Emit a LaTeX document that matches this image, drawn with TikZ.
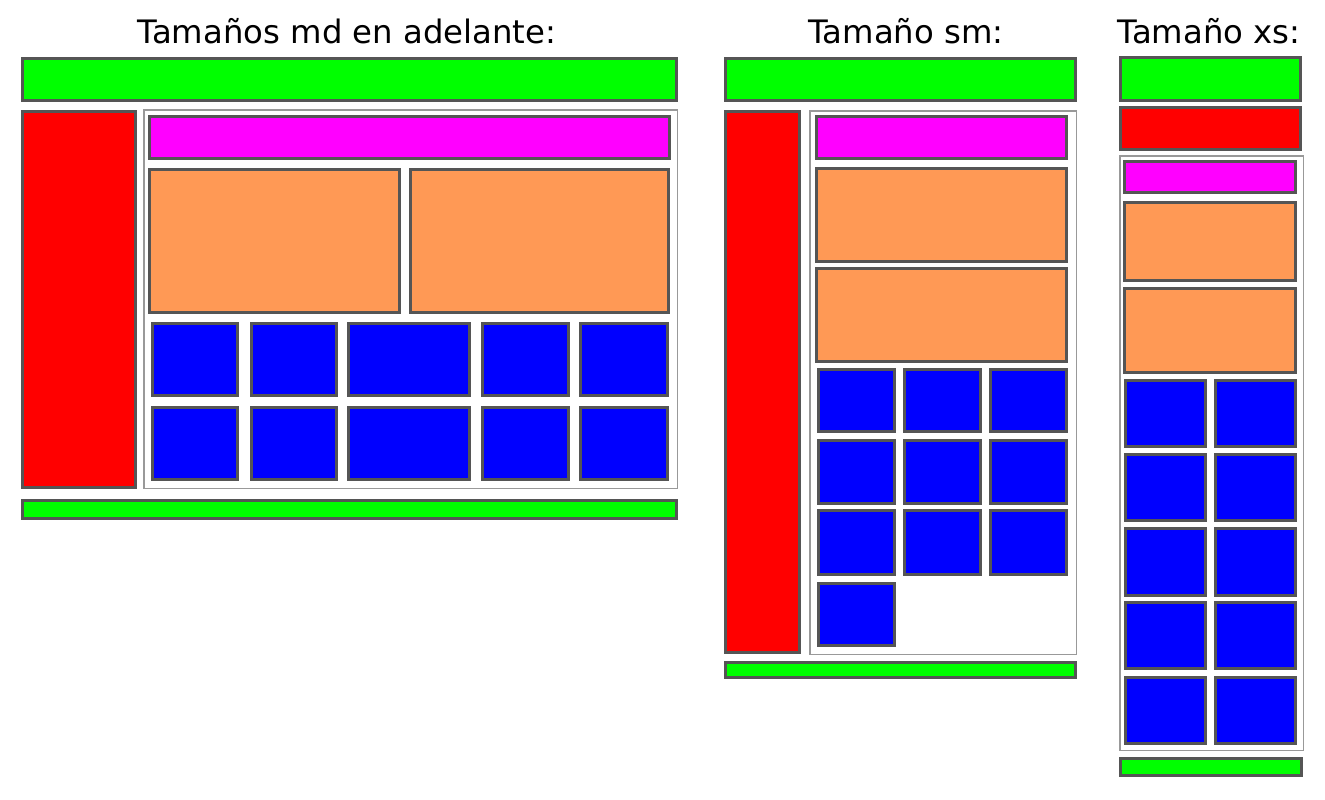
\documentclass[tikz,border=0pt]{standalone}
\usepackage{fontspec}
\setmainfont{DejaVu Sans}
\definecolor{edgegray}{HTML}{555555}
\definecolor{framegray}{HTML}{999999}
\definecolor{cgreen}{HTML}{00FF00}
\definecolor{cred}{HTML}{FF0000}
\definecolor{cmag}{HTML}{FF00FF}
\definecolor{corange}{HTML}{FF9955}
\definecolor{cblue}{HTML}{0000FF}
\tikzset{
  blk/.style={draw=edgegray, line width=2.8pt, inner sep=0pt, outer sep=0pt, anchor=north west},
  frame/.style={draw=framegray, line width=1.5pt, fill=white, inner sep=0pt, outer sep=0pt, anchor=north west},
  gbox/.style={blk, fill=cgreen},
  rbox/.style={blk, fill=cred},
  mbox/.style={blk, fill=cmag},
  obox/.style={blk, fill=corange},
  bbox/.style={blk, fill=cblue},
  title/.style={font=\fontsize{32.3}{37}\selectfont, anchor=base, inner sep=0pt}
}
% \bx{style}{name}{x1}{y1}{x2}{y2}  (outer edges in px, y downward)
\newcommand\bx[6]{\node[#1, minimum width={(#5-#3-2.8)*1pt}, minimum height={(#6-#4-2.8)*1pt}] (#2) at (#3+1.4,#4+1.4) {};}
\newcommand\fr[6]{\node[#1, minimum width={(#5-#3-1.5)*1pt}, minimum height={(#6-#4-1.5)*1pt}] (#2) at (#3+0.75,#4+0.75) {};}
\begin{document}
\begin{tikzpicture}[x=1pt,y=-1pt]
\useasboundingbox (0,0) rectangle (1325,800);
% ---------- md ----------
\node[title] (t1) at (347,44) {Tamaños md en adelante:};
\bx{gbox}{mdtop}{21}{57}{678}{102}
\bx{rbox}{mdside}{21}{110}{137}{489}
\fr{frame}{mdcont}{143}{109}{678}{489}
\bx{mbox}{mdhead}{148}{115}{671}{160}
\bx{obox}{mdo1}{148}{168}{401}{314}
\bx{obox}{mdo2}{409}{168}{670}{314}
\foreach \r/\ya/\yb in {1/322/397, 2/406/481}{
  \foreach \c/\xa/\xb in {1/151/239, 2/250/338, 3/347/471, 4/481/570, 5/579/669}{
    \bx{bbox}{mdb\r\c}{\xa}{\ya}{\xb}{\yb}
  }
}
\bx{gbox}{mdfoot}{21}{499}{678}{520}
% ---------- sm ----------
\node[title] (t2) at (906,44) {Tamaño sm:};
\bx{gbox}{smtop}{724}{57}{1077}{102}
\bx{rbox}{smside}{724}{110}{801}{654}
\fr{frame}{smcont}{809}{110}{1077}{655}
\bx{mbox}{smhead}{815}{115}{1068}{160}
\bx{obox}{smo1}{815}{167}{1068}{263}
\bx{obox}{smo2}{815}{267}{1068}{363}
\foreach \r/\ya/\yb in {1/368/433, 2/439/505, 3/509/576}{
  \foreach \c/\xa/\xb in {1/817/896, 2/903/982, 3/989/1068}{
    \bx{bbox}{smb\r\c}{\xa}{\ya}{\xb}{\yb}
  }
}
\bx{bbox}{smb41}{817}{582}{896}{647}
\bx{gbox}{smfoot}{724}{661}{1077}{679}
% ---------- xs ----------
\node[title] (t3) at (1209,44) {Tamaño xs:};
\bx{gbox}{xstop}{1119}{56}{1302}{102}
\bx{rbox}{xsside}{1119}{106}{1302}{151}
\fr{frame}{xscont}{1119}{155}{1304}{751}
\bx{mbox}{xshead}{1123}{160}{1297}{194}
\bx{obox}{xso1}{1123}{201}{1297}{282}
\bx{obox}{xso2}{1123}{287}{1297}{374}
\foreach \r/\ya/\yb in {1/379/448, 2/453/522, 3/527/597, 4/601/670, 5/676/745}{
  \foreach \c/\xa/\xb in {1/1124/1207, 2/1214/1297}{
    \bx{bbox}{xsb\r\c}{\xa}{\ya}{\xb}{\yb}
  }
}
\bx{gbox}{xsfoot}{1119}{757}{1303}{777}
\end{tikzpicture}
\end{document}
